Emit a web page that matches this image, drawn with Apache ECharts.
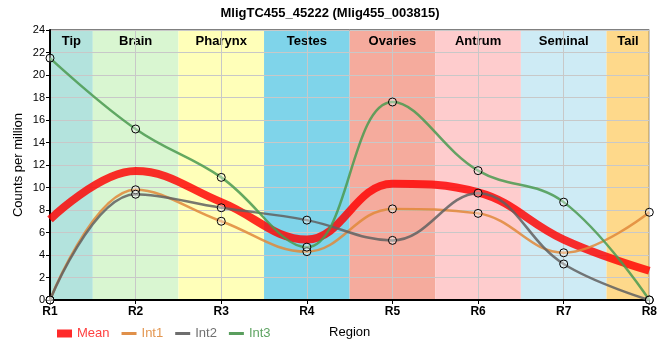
<!DOCTYPE html>
<html><head><meta charset="utf-8">
<script src="https://cdn.jsdelivr.net/npm/echarts@6/dist/echarts.min.js"></script>
<style>html,body{margin:0;padding:0;background:#fff}#c{width:660px;height:360px}</style>
</head><body><div id="c"></div>
<script>
var categories = ['R1','R2','R3','R4','R5','R6','R7','R8'];
var meanVals = [7.17, 11.47, 8.7, 5.37, 10.33, 9.57, 5.37, 2.6];
var int1Vals = [0, 9.8, 7.0, 4.3, 8.1, 7.7, 4.2, 7.8];
var int2Vals = [0, 9.4, 8.2, 7.1, 5.3, 9.5, 3.2, 0];
var int3Vals = [21.5, 15.2, 10.9, 4.7, 17.6, 11.5, 8.7, 0];
var regionNames = ['Tip','Brain','Pharynx','Testes','Ovaries','Antrum','Seminal','Tail'];
var regionStart = [1, 1.5, 2.5, 3.5, 4.5, 5.5, 6.5, 7.5];
var regionEnd = [1.5, 2.5, 3.5, 4.5, 5.5, 6.5, 7.5, 8];
var regionColors = ['#b3e3dd','#d9f6d1','#ffffb9','#7fd4ea','#f5ab9d','#fecccd','#ceebf5','#fed98b'];
var yTicks = {min: 0, max: 24, interval: 2};

function pts(vals){ return vals.map(function(v,i){ return [i+1, v]; }); }
var bandData = regionNames.map(function(n,i){ return [regionStart[i], regionEnd[i], n, regionColors[i]]; });

var chart = echarts.init(document.getElementById('c'));
var font = 'Arial, "Liberation Sans", sans-serif';
var markerStyle = {color: 'rgba(255,255,255,0.35)', borderColor: '#000', borderWidth: 1};
chart.setOption({
  animation: false,
  textStyle: {fontFamily: font},
  title: {text: 'MligTC455_45222 (Mlig455_003815)', left: 'center', top: 2,
    textStyle: {fontSize: 13, fontWeight: 'bold', color: '#000', fontFamily: font}},
  grid: {left: 50, right: 10, top: 30, bottom: 60, show: true, borderColor: '#000', borderWidth: 1, backgroundColor: 'transparent'},
  legend: {left: 52, top: 322, itemWidth: 15, itemHeight: 8, itemGap: 12,
    textStyle: {fontSize: 13, fontFamily: font},
    data: [
      {name: 'Mean', icon: 'path://M0,0H15V8H0Z', itemStyle: {color: '#ff2a2a', borderWidth: 0}, textStyle: {color: '#ff4040'}},
      {name: 'Int1', icon: 'path://M0,0H15V3H0Z', itemStyle: {color: '#e0904a', borderWidth: 0}, textStyle: {color: '#e39650'}},
      {name: 'Int2', icon: 'path://M0,0H15V3H0Z', itemStyle: {color: '#6e6e6e', borderWidth: 0}, textStyle: {color: '#707070'}},
      {name: 'Int3', icon: 'path://M0,0H15V3H0Z', itemStyle: {color: '#5a9e5e', borderWidth: 0}, textStyle: {color: '#5fa463'}}
    ]},
  xAxis: {type: 'value', min: 1, max: 8, interval: 1,
    name: 'Region', nameLocation: 'middle', nameGap: 26, nameMoveOverlap: false,
    nameTextStyle: {fontSize: 13, color: '#000', fontFamily: font},
    axisLine: {show: true, lineStyle: {color: '#000', width: 2}},
    axisTick: {show: true, length: 4, lineStyle: {color: '#000'}},
    axisLabel: {fontSize: 12, fontWeight: 'bold', color: '#000', margin: 6,
      formatter: function(v){ return categories[v-1] || ''; }},
    splitLine: {show: true, lineStyle: {color: '#c8c8c8', width: 1}}},
  yAxis: {type: 'value', min: yTicks.min, max: yTicks.max, interval: yTicks.interval,
    name: 'Counts per million', nameLocation: 'middle', nameGap: 25, nameMoveOverlap: false,
    nameTextStyle: {fontSize: 13, color: '#000', fontFamily: font},
    axisLine: {show: true, lineStyle: {color: '#000', width: 2}},
    axisTick: {show: true, length: 4, lineStyle: {color: '#000'}},
    axisLabel: {fontSize: 11, color: '#000', margin: 5},
    splitLine: {show: true, lineStyle: {color: '#c8c8c8', width: 1}}},
  series: [
    {type: 'custom', name: 'bands', z: -1, silent: true, data: bandData,
      encode: {x: [0,1]},
      renderItem: function(params, api){
        var p0 = api.coord([api.value(0), 24]);
        var p1 = api.coord([api.value(1), 0]);
        var cs = params.coordSys;
        return {type: 'group', children: [
          {type: 'rect', shape: {x: p0[0], y: p0[1], width: p1[0]-p0[0], height: p1[1]-p0[1]},
            style: {fill: bandData[params.dataIndex][3]}},
          {type: 'text', x: (p0[0]+p1[0])/2, y: cs.y + 5,
            style: {text: bandData[params.dataIndex][2], fill: '#000', font: 'bold 13px ' + font, align: 'center', verticalAlign: 'top'}}
        ]};
      }},
    {type: 'line', name: 'Mean', data: pts(meanVals), smooth: 0.4, showSymbol: false, symbol: 'none',
      lineStyle: {color: '#ff0000', width: 8, opacity: 0.82}, z: 3},
    {type: 'line', name: 'Int1', data: pts(int1Vals), smooth: 0.4, symbol: 'circle', symbolSize: 8,
      lineStyle: {color: '#e0883a', width: 2.5, opacity: 0.85}, itemStyle: markerStyle, z: 4},
    {type: 'line', name: 'Int2', data: pts(int2Vals), smooth: 0.4, symbol: 'circle', symbolSize: 8,
      lineStyle: {color: '#606060', width: 2.5, opacity: 0.85}, itemStyle: markerStyle, z: 4},
    {type: 'line', name: 'Int3', data: pts(int3Vals), smooth: 0.4, symbol: 'circle', symbolSize: 8,
      lineStyle: {color: '#4a9a50', width: 2.5, opacity: 0.85}, itemStyle: markerStyle, z: 4}
  ]
});
</script></body></html>
